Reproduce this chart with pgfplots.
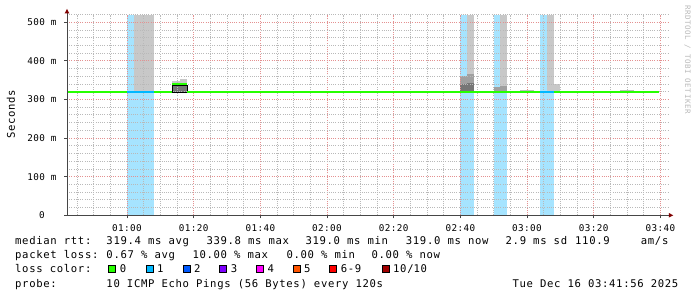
\documentclass[border=0pt]{standalone}
\usepackage{fontspec}
\setmainfont{DejaVu Sans Mono}
\newfontfamily\legfont[LetterSpace=6.3]{DejaVu Sans Mono}
\newfontfamily\axfont[LetterSpace=4.3]{DejaVu Sans Mono}
\newfontfamily\wmfont[LetterSpace=6.7]{DejaVu Sans Mono}
\usepackage{pgfplots}
\pgfplotsset{compat=1.18}
\definecolor{lossbg}{RGB}{166,228,255}
\definecolor{smokeA}{RGB}{200,200,200}
\definecolor{smokeB}{RGB}{160,160,160}
\definecolor{smokeC}{RGB}{118,118,118}
\definecolor{bump}{RGB}{188,188,188}
\definecolor{med0}{RGB}{38,255,0}
\definecolor{med1}{RGB}{0,184,255}
\definecolor{lc2}{RGB}{0,89,255}
\definecolor{lc3}{RGB}{126,0,255}
\definecolor{lc4}{RGB}{255,0,255}
\definecolor{lc5}{RGB}{255,85,0}
\definecolor{lc6}{RGB}{255,0,0}
\definecolor{lc10}{RGB}{161,0,0}
\definecolor{mingrid}{RGB}{185,185,185}
\definecolor{majgrid}{RGB}{228,145,145}
\definecolor{axline}{RGB}{70,70,70}
\definecolor{arrowred}{RGB}{128,0,0}
\definecolor{wm}{RGB}{185,185,185}
\newcommand\LF{\legfont\fontsize{10.6bp}{12bp}\selectfont}
\newcommand\AF{\axfont\fontsize{9.3bp}{11bp}\selectfont}
\begin{document}
\begin{tikzpicture}
\useasboundingbox (0,0) rectangle (697bp,297bp);
\begin{axis}[
  at={(67bp,81.7bp)}, anchor=south west,
  scale only axis, width=601bp, height=200.7bp,
  xmin=42, xmax=222.3, ymin=0, ymax=520,
  xtick={60,80,...,220},
  xticklabels={01:00,01:20,01:40,02:00,02:20,02:40,03:00,03:20,03:40},
  minor xtick={45,50,...,220},
  ytick={0,100,...,500},
  yticklabels={0,100 m,200 m,300 m,400 m,500 m},
  minor ytick={20,40,...,520},
  grid=both,
  minor grid style={draw=mingrid, line width=0.9bp, dash pattern=on 1bp off 1.2bp},
  major grid style={draw=majgrid, line width=0.9bp, dash pattern=on 1bp off 1.2bp},
  axis line style={draw=none},
  tickpos=left,
  tick align=outside,
  major tick length=3bp, minor tick length=0pt,
  tick style={axline, line width=1bp},
  xticklabel style={font=\AF, anchor=center, inner sep=0pt, yshift=-9.7bp},
  yticklabel style={font=\AF, anchor=center, inner sep=0pt, xshift=-22bp},
  axis on top,
]
% loss background bars (1/10 loss)
\addplot[draw=none, fill=lossbg] coordinates {(60,0) (68,0) (68,520) (60,520)} -- cycle;
\addplot[draw=none, fill=lossbg] coordinates {(160,0) (164,0) (164,520) (160,520)} -- cycle;
\addplot[draw=none, fill=lossbg] coordinates {(170,0) (174,0) (174,520) (170,520)} -- cycle;
\addplot[draw=none, fill=lossbg] coordinates {(184,0) (188,0) (188,520) (184,520)} -- cycle;
% light smoke
\addplot[draw=none, fill=smokeA] coordinates {(62,320) (68,320) (68,520) (62,520)} -- cycle;
\addplot[draw=none, fill=smokeA] coordinates {(162,320) (164,320) (164,520) (162,520)} -- cycle;
\addplot[draw=none, fill=smokeA] coordinates {(172,320) (174,320) (174,520) (172,520)} -- cycle;
\addplot[draw=none, fill=smokeA] coordinates {(186,320) (188,320) (188,520) (186,520)} -- cycle;
\addplot[draw=none, fill=smokeA] coordinates {(188,319) (190,319) (190,339) (188,339)} -- cycle;
\addplot[draw=none, fill=smokeA] coordinates {(73.6,320) (75.8,320) (75.8,348) (73.6,348)} -- cycle;
\addplot[draw=none, fill=smokeA] coordinates {(75.8,320) (78,320) (78,353) (75.8,353)} -- cycle;
\addplot[draw=none, fill=bump] coordinates {(178,319) (182,319) (182,325) (178,325)} -- cycle;
\addplot[draw=none, fill=bump] coordinates {(208,319) (212,319) (212,325) (208,325)} -- cycle;
% medium smoke
\addplot[draw=none, fill=smokeB] coordinates {(160,320) (162,320) (162,361.7) (160,361.7)} -- cycle;
\addplot[draw=none, fill=smokeB] coordinates {(162,320) (164,320) (164,365) (162,365)} -- cycle;
\addplot[draw=none, fill=smokeB] coordinates {(170,320) (172,320) (172,331.6) (170,331.6)} -- cycle;
\addplot[draw=none, fill=smokeB] coordinates {(172,320) (174,320) (174,335.8) (172,335.8)} -- cycle;
% dark smoke
\addplot[draw=none, fill=smokeC] coordinates {(160,320) (162,320) (162,340.2) (160,340.2)} -- cycle;
\addplot[draw=none, fill=smokeC] coordinates {(162,320) (164,320) (164,341.9) (162,341.9)} -- cycle;
\addplot[draw=black, line width=0.8bp, fill=smokeC] coordinates {(73.6,318.5) (78,318.5) (78,337) (73.6,337)} -- cycle;
\end{axis}
\begin{axis}[
  at={(67bp,81.7bp)}, anchor=south west,
  scale only axis, width=601bp, height=200.7bp,
  xmin=42, xmax=222.3, ymin=0, ymax=520,
  hide axis,
]
\addplot[med0, line width=2bp] coordinates {(42,319) (60,319)};
\addplot[med1, line width=2bp] coordinates {(60,319) (68,319)};
\addplot[med0, line width=2bp] coordinates {(68,319) (73.6,319)};
\addplot[med0, line width=2bp, const plot] coordinates {(73.6,339) (75.8,341) (78,341)};
\addplot[med0, line width=2bp] coordinates {(78,319) (184,319)};
\addplot[med1, line width=2bp] coordinates {(184,319) (188,319)};
\addplot[med0, line width=2bp] coordinates {(188,319) (219.7,319)};
\end{axis}
\begin{scope}[x=1bp,y=1bp]
\draw[axline, line width=1bp] (66.5,81.7) -- (669,81.7);
\fill[arrowred] (673.3,81.7) -- (668.8,84) -- (668.8,79.4) -- cycle;
\draw[axline, line width=1bp] (67,81.2) -- (67,284.5);
\fill[arrowred] (67,288) -- (64.7,283.7) -- (69.3,283.7) -- cycle;
\node[rotate=90, font=\LF, inner sep=0pt] at (10.8,183) {Seconds};
\node[rotate=-90, anchor=west, font=\wmfont\fontsize{7.5bp}{9bp}\selectfont, text=wm, inner sep=0pt] at (687.5,292) {RRDTOOL / TOBI OETIKER};
% legend line 1
\tikzset{lg/.style={anchor=base west, inner sep=0pt, font=\LF}}
\node[lg] at (15,52.5) {median rtt:};
\node[lg] at (106.3,52.5) {319.4 ms avg};
\node[lg] at (206.3,52.5) {339.8 ms max};
\node[lg] at (305.3,52.5) {319.0 ms min};
\node[lg] at (405.7,52.5) {319.0 ms now};
\node[lg] at (505.5,52.5) {2.9 ms sd};
\node[lg] at (575,52.5) {110.9};
\node[lg] at (640.7,52.5) {am/s};
% line 2
\node[lg] at (15,38.3) {packet loss:};
\node[lg] at (106.3,38.3) {0.67 \% avg};
\node[lg] at (192.3,38.3) {10.00 \% max};
\node[lg] at (286.3,38.3) {0.00 \% min};
\node[lg] at (371.3,38.3) {0.00 \% now};
% line 3
\node[lg] at (15,24.1) {loss color:};
\foreach \sx/\col/\lab in {108.3/med0/0, 145.7/med1/1, 182.7/lc2/2, 219.3/lc3/3, 256/lc4/4, 292.7/lc5/5, 329.3/lc6/6-9, 381.7/lc10/10\slash 10}{
  \filldraw[fill=\col, draw=black, line width=0.8bp] (\sx+0.4,24.4) rectangle (\sx+7.4,31.4);
  \node[lg] at (\sx+11.3,24.1) {\lab};
}
% line 4
\node[lg] at (15,9.9) {probe:};
\node[lg] at (106.3,9.9) {10 ICMP Echo Pings (56 Bytes) every 120s};
\node[lg] at (512.3,9.9) {Tue Dec 16 03:41:56 2025};
\end{scope}
\end{tikzpicture}
\end{document}
